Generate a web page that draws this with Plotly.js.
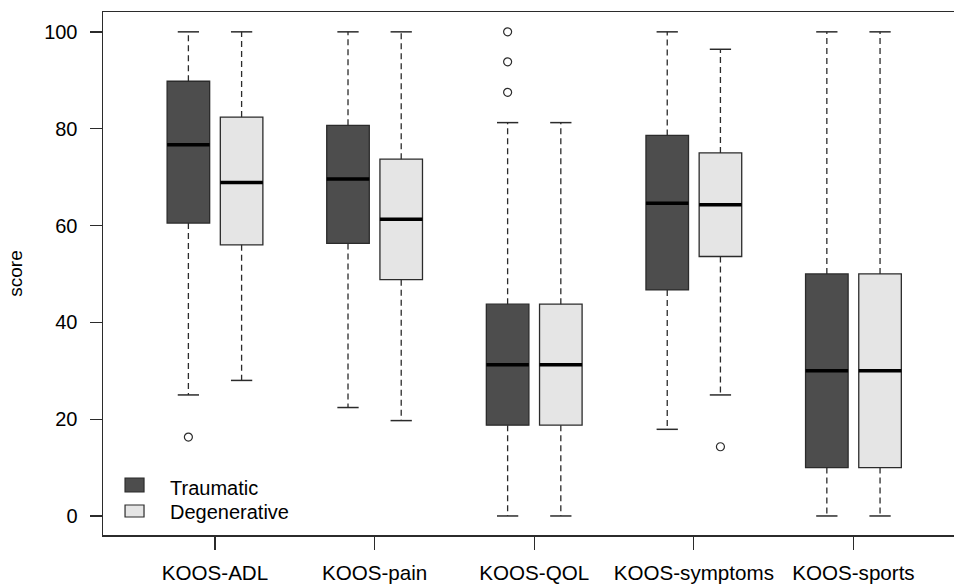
<!DOCTYPE html>
<html><head><meta charset="utf-8">
<script src="https://cdn.plot.ly/plotly-3.0.1.min.js"></script>
<style>html,body{margin:0;padding:0;background:#fff}</style>
</head><body><div id="chart" style="width:954px;height:584px"></div>
<script>
// ---- data ----
const categories = ["KOOS-ADL", "KOOS-pain", "KOOS-QOL", "KOOS-symptoms", "KOOS-sports"];
const groupNames = ["Traumatic", "Degenerative"];

const traumaticLower  = [25.0, 22.4, 0,     17.9, 0];
const traumaticQ1     = [60.5, 56.3, 18.75, 46.7, 10];
const traumaticMedian = [76.7, 69.6, 31.25, 64.6, 30];
const traumaticQ3     = [89.8, 80.7, 43.75, 78.6, 50];
const traumaticUpper  = [100,  100,  81.25, 100,  100];
const traumaticOutliers = [[16.3], [], [87.5, 93.8, 100], [], []];

const degenerativeLower  = [28.0, 19.7, 0,     25.0, 0];
const degenerativeQ1     = [56.0, 48.8, 18.75, 53.6, 10];
const degenerativeMedian = [68.9, 61.3, 31.25, 64.3, 30];
const degenerativeQ3     = [82.4, 73.7, 43.75, 75.0, 50];
const degenerativeUpper  = [100,  100,  81.25, 96.4, 100];
const degenerativeOutliers = [[], [], [], [14.3], []];

const yTickValues = [0, 20, 40, 60, 80, 100];

// ---- styling ----
const FONT = "Liberation Sans, Arial, sans-serif";
const INK = "#2b2b2b";
const fills = ["#4d4d4d", "#e5e5e5"];
const BOXW = 0.8, STAPLE = 0.4;

const groups = [
  {name: groupNames[0], lo: traumaticLower, q1: traumaticQ1, med: traumaticMedian, q3: traumaticQ3, hi: traumaticUpper, out: traumaticOutliers, off: 1},
  {name: groupNames[1], lo: degenerativeLower, q1: degenerativeQ1, med: degenerativeMedian, q3: degenerativeQ3, hi: degenerativeUpper, out: degenerativeOutliers, off: 2}
];

const traces = [];
groups.forEach((g, gi) => {
  const xs = categories.map((c, i) => i * 3 + g.off);
  traces.push({
    type: "box", name: g.name, x: xs,
    q1: g.q1, median: g.med, q3: g.q3, lowerfence: g.q1, upperfence: g.q3,
    width: BOXW, whiskerwidth: 0,
    fillcolor: fills[gi], line: {color: INK, width: 1.3},
    boxpoints: false, showlegend: false, hoverinfo: "skip"
  });
});
groups.forEach((g, gi) => {
  const xs = categories.map((c, i) => i * 3 + g.off);
  const wx = [], wy = [], sx = [], sy = [], mx = [], my = [], ox = [], oy = [];
  xs.forEach((x, i) => {
    wx.push(x, x, null, x, x, null); wy.push(g.q3[i], g.hi[i], null, g.q1[i], g.lo[i], null);
    sx.push(x - STAPLE / 2, x + STAPLE / 2, null, x - STAPLE / 2, x + STAPLE / 2, null);
    sy.push(g.hi[i], g.hi[i], null, g.lo[i], g.lo[i], null);
    mx.push(x - BOXW / 2, x + BOXW / 2, null); my.push(g.med[i], g.med[i], null);
    g.out[i].forEach(v => { ox.push(x); oy.push(v); });
  });
  traces.push({type: "scatter", mode: "lines", x: wx, y: wy, line: {color: INK, width: 1.3, dash: "6px,4px"}, showlegend: false, hoverinfo: "skip"});
  traces.push({type: "scatter", mode: "lines", x: sx, y: sy, line: {color: INK, width: 1.5}, showlegend: false, hoverinfo: "skip"});
  traces.push({type: "scatter", mode: "lines", x: mx, y: my, line: {color: "#000", width: 3.5}, showlegend: false, hoverinfo: "skip"});
  traces.push({type: "scatter", mode: "markers", x: ox, y: oy, marker: {symbol: "circle-open", size: 8, color: INK, line: {width: 1.2, color: INK}}, showlegend: false, hoverinfo: "skip"});
});

// legend drawn as shapes + text (R style, no frame)
const legendY = [[0.0822, 0.1090, 0.0908], [0.0344, 0.0574, 0.044]];
const shapes = [], annotations = [];
groupNames.forEach((n, gi) => {
  shapes.push({type: "rect", xref: "paper", yref: "paper", x0: 0.0259, x1: 0.0482, y0: legendY[gi][0], y1: legendY[gi][1],
    fillcolor: fills[gi], line: {color: INK, width: 1.2}});
  annotations.push({xref: "paper", yref: "paper", x: 0.0764, y: legendY[gi][2], xanchor: "left", yanchor: "middle",
    text: n, showarrow: false, font: {family: FONT, size: 20, color: "#000"}});
});

const layout = {
  width: 954, height: 584,
  margin: {l: 103, r: 0, t: 12, b: 49},
  paper_bgcolor: "#fff", plot_bgcolor: "#fff",
  boxmode: "overlay", showlegend: false,
  font: {family: FONT, size: 20, color: "#000"},
  xaxis: {
    range: [-0.605, 15.39], showgrid: false, zeroline: false,
    tickmode: "array", tickvals: categories.map((c, i) => i * 3 + 1.5), ticktext: categories,
    ticks: "outside", ticklen: 13, tickwidth: 1.3, tickcolor: INK,
    showline: true, linecolor: INK, linewidth: 1.5, mirror: true,
    tickfont: {family: FONT, size: 20.6, color: "#000"}, ticklabelstandoff: 6
  },
  yaxis: {
    range: [-3.93, 104.1], showgrid: false, zeroline: false,
    tickmode: "array", tickvals: yTickValues, ticktext: yTickValues.map(String),
    ticks: "outside", ticklen: 12, tickwidth: 1.3, tickcolor: INK,
    showline: true, linecolor: INK, linewidth: 1.5,
    tickfont: {family: FONT, size: 20, color: "#000"}, ticklabelstandoff: 8,
    title: {text: "score", font: {family: FONT, size: 19, color: "#000"}, standoff: 16}
  },
  shapes: shapes, annotations: annotations
};

Plotly.newPlot("chart", traces, layout, {displayModeBar: false, staticPlot: true});
</script>
</body></html>
